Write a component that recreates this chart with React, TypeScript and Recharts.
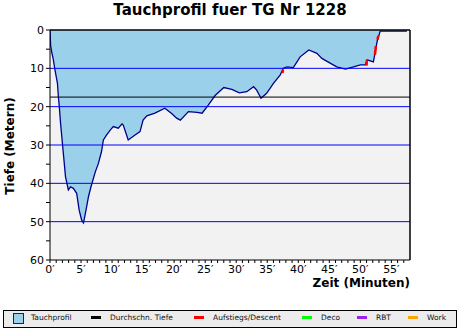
import React from "react";
import { ComposedChart, Area, Line, XAxis, YAxis, CartesianGrid, ReferenceLine } from "recharts";

// dive profile: minutes / metres
const times = [
  0, 0.1, 0.3, 0.5, 0.8, 1.2, 1.35, 1.5, 1.7, 2.0, 2.3, 2.5, 2.96, 3.3, 3.76, 4.3, 4.7, 5.1, 5.4, 5.8,
  6.2, 6.6, 7.3, 7.8, 8.3, 8.6, 9.1, 9.7, 10.2, 11.0, 11.6, 11.8, 12.6, 13.7, 14.5, 15.0, 15.6, 16.9,
  18.5, 19.6, 20.4, 21.0, 22.3, 23.7, 24.5, 25.5, 26.6, 28.0, 29.3, 30.5, 31.7, 32.8, 33.3, 34.0, 34.9,
  36.0, 37.1, 37.6, 38.2, 39.2, 40.3, 41.7, 43.0, 43.8, 45.2, 46.2, 47.6, 48.9, 50.0, 50.8, 51.1, 52.1,
  52.4, 52.7, 53.2, 57.5,
];
const depths = [
  0, 4, 6, 7.4, 10.4, 13.9, 17.4, 20, 24.3, 29.6, 34.8, 38.3, 41.7, 40.9, 41.3, 42.6, 47, 49.6, 50.3, 47,
  43.5, 40.9, 37, 34.8, 31.7, 28.7, 27.4, 26.1, 25.2, 25.6, 24.5, 24.8, 28.7, 27.4, 26.5, 23.5, 22.4, 21.7,
  20.4, 21.8, 23, 23.5, 21.3, 21.5, 21.7, 19.6, 17.1, 15, 15.5, 16.4, 16.1, 14.8, 15.7, 17.8, 16.5,
  13.9, 11.7, 10, 9.6, 9.8, 7, 5.2, 6.1, 7.4, 8.7, 9.6, 10.2, 9.6, 9.1, 9.1, 7.8, 8.3,
  5.7, 3, 0.3, 0.3,
];

// too-fast ascent pieces (red)
const ascentTimes = [[37.45, 37.55], [51.0, 51.05], [52.35, 52.5], [52.75, 52.9]];
const ascentDepths = [[11.2, 10.4], [9.3, 7.8], [6.5, 4.2], [2.5, 1.5]];

const avgDepth = 17.5;
const gridDepths = [10, 20, 30, 40, 50];
const yTicks = [0, 5, 10, 15, 20, 25, 30, 35, 40, 45, 50, 55, 60];
const xTicks = Array.from({ length: 58 }, (_, i) => i);

const legendItems = [
  { name: "Tauchprofil", color: "#9BD0EA", box: true, x: 13, tx: 31 },
  { name: "Durchschn. Tiefe", color: "#000000", x: 91, tx: 110 },
  { name: "Aufstiegs/Descent", color: "#ff0000", x: 194, tx: 213 },
  { name: "Deco", color: "#00ff00", x: 302, tx: 321 },
  { name: "RBT", color: "#a020f0", x: 357, tx: 376 },
  { name: "Work", color: "#ffa500", x: 408, tx: 427 },
];

const profile = times.map((t, i) => ({ t, d: depths[i] }));
const ascents = ascentTimes.map((ts, i) => ts.map((t, j) => ({ t, d: ascentDepths[i][j] })));

const font = "'DejaVu Sans', Verdana, sans-serif";

export default function App() {
  return (
    <div style={{ position: "fixed", top: 0, left: 0, width: 460, height: 330, background: "#fff", fontFamily: font }}>
      <div style={{ position: "absolute", top: 0, left: 0, width: 460, textAlign: "center", fontWeight: "bold", fontSize: 15, lineHeight: "20px" }}>
        Tauchprofil fuer TG Nr 1228
      </div>
      <ComposedChart width={460} height={330} data={profile} margin={{ top: 30, right: 50, left: 0, bottom: 50 }}>
        <CartesianGrid horizontal={false} vertical={false} fill="#f2f2f2" />
        <XAxis
          dataKey="t"
          type="number"
          domain={[0, 58]}
          ticks={xTicks}
          interval={0}
          allowDataOverflow
          height={20}
          tickSize={3}
          tickFormatter={(v: number) => (v % 5 === 0 ? `${v}′` : "")}
          tick={{ fontSize: 11, fill: "#000", fontFamily: font }}
          stroke="#000"
        />
        <YAxis
          type="number"
          domain={[0, 60]}
          reversed
          ticks={yTicks}
          interval={0}
          width={50}
          tickSize={4}
          tickFormatter={(v: number) => (v % 10 === 0 ? String(v) : "")}
          tick={{ fontSize: 11, fill: "#000", fontFamily: font }}
          stroke="#000"
        />
        <Area
          dataKey="d"
          type="linear"
          stroke="#00008b"
          strokeWidth={1.3}
          fill="#9BD0EA"
          fillOpacity={1}
          isAnimationActive={false}
          dot={false}
        />
        {gridDepths.map((g) => (
          <ReferenceLine key={g} y={g} stroke="#0000ff" strokeWidth={1} />
        ))}
        <ReferenceLine y={avgDepth} stroke="#000" strokeWidth={1} />
        <ReferenceLine y={0} stroke="#000" strokeWidth={1.5} />
        <ReferenceLine x={58} stroke="#000" strokeWidth={1.5} />
        {ascents.map((seg, i) => (
          <Line
            key={i}
            data={seg}
            dataKey="d"
            type="linear"
            stroke="#ff0000"
            strokeWidth={2.5}
            dot={false}
            isAnimationActive={false}
          />
        ))}
      </ComposedChart>
      <div
        style={{
          position: "absolute",
          left: 0,
          top: 139,
          width: 20,
          height: 14,
          transform: "rotate(-90deg)",
          transformOrigin: "center",
          display: "flex",
          justifyContent: "center",
          whiteSpace: "nowrap",
          fontWeight: "bold",
          fontSize: 12,
          lineHeight: "14px",
        }}
      >
        Tiefe (Metern)
      </div>
      <div style={{ position: "absolute", right: 50, top: 277, fontWeight: "bold", fontSize: 12, lineHeight: "12px", whiteSpace: "nowrap" }}>
        Zeit (Minuten)
      </div>
      <div style={{ position: "absolute", left: 3, top: 310, width: 452, height: 16, border: "1px solid #000", background: "#ececec" }}>
        {legendItems.map((it) => (
          <React.Fragment key={it.name}>
            {it.box ? (
              <div style={{ position: "absolute", left: it.x - 4, top: 2, width: 9, height: 9, background: it.color, border: "1px solid #223" }} />
            ) : (
              <div style={{ position: "absolute", left: it.x - 4, top: 5, width: 10, height: 3, background: it.color }} />
            )}
            <div style={{ position: "absolute", left: it.tx - 4, top: 1, fontSize: 7.5, lineHeight: "12px", whiteSpace: "nowrap", color: "#111" }}>
              {it.name}
            </div>
          </React.Fragment>
        ))}
      </div>
    </div>
  );
}
